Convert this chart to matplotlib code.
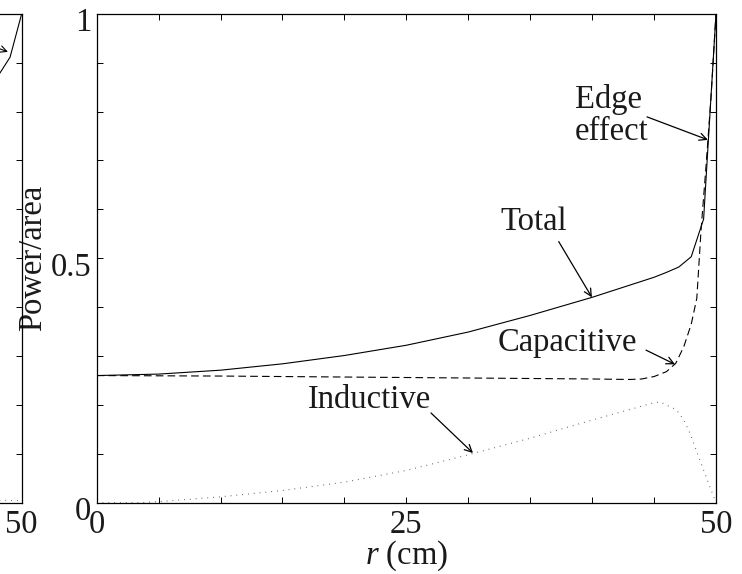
import matplotlib
matplotlib.use("Agg")
import matplotlib.pyplot as plt
from matplotlib.transforms import ScaledTranslation

plt.rcParams['font.family'] = ['Liberation Serif', 'DejaVu Serif']
plt.rcParams['mathtext.fontset'] = 'custom'
plt.rcParams['mathtext.rm'] = 'Liberation Serif'
plt.rcParams['mathtext.it'] = 'Liberation Serif:italic'
plt.rcParams['lines.scale_dashes'] = False

# ---- data ----
r_total = [0, 5, 10, 15, 20, 25, 30, 35, 40, 45, 46, 47, 48, 49, 50]
total = [0.260, 0.263, 0.271, 0.284, 0.301, 0.322, 0.349, 0.383, 0.420, 0.461, 0.471, 0.482, 0.503, 0.580, 1.000]

r_cap = [0, 10, 20, 30, 40, 43, 44, 45, 46, 46.75, 47.4, 48.0, 48.45, 48.8, 49.2, 49.6, 50]
capacitive = [0.260, 0.259, 0.257, 0.255, 0.253, 0.252, 0.253, 0.258, 0.268, 0.285, 0.319, 0.365, 0.418,
              0.560, 0.690, 0.830, 1.000]

r_ind = [0, 3.5, 5, 10, 15, 20, 25, 30, 35, 40, 45, 45.5, 46.8, 47.4, 47.9, 48.7, 49.5, 50]
inductive = [0.0, 0.0, 0.002, 0.012, 0.025, 0.042, 0.066, 0.098, 0.132, 0.169, 0.2045, 0.206, 0.190,
             0.169, 0.142, 0.087, 0.033, 0.0]

# partially visible neighbouring panel
r_left = [47.4, 48.25, 49.06, 50]
left_total = [0.854, 0.879, 0.911, 1.0]
r_left_ind = [47.0, 49.7]
left_ind = [0.005, 0.005]

xticks = [0, 5, 10, 15, 20, 25, 30, 35, 40, 45, 50]
xticklabels = ['0', '', '', '', '', '25', '', '', '', '', '50']
left_xticklabels = ['', '', '', '', '', '', '', '', '', '', '50']
yticks = [0, 0.1, 0.2, 0.3, 0.4, 0.5, 0.6, 0.7, 0.8, 0.9, 1.0]
yticklabels = ['0', '', '', '', '', '0.5', '', '', '', '', '1']
left_yticklabels = [''] * 11

FS = 23.5
TXT = '#1a1a1a'

fig = plt.figure(figsize=(7.42, 5.74), dpi=100)
W, H = 742.0, 574.0
left_px, right_px, top_px, bot_px = 96.7, 716.0, 13.7, 502.7
aw = (right_px - left_px) / W
ah = (bot_px - top_px) / H
ab = 1 - bot_px / H

ax = fig.add_axes([left_px / W, ab, aw, ah])
axl = fig.add_axes([(21.7 - (right_px - left_px)) / W, ab, aw, ah])


def style(a, xl, yl):
    a.set_xlim(0, 50)
    a.set_ylim(0, 1)
    a.set_xticks(xticks)
    a.set_xticklabels(xl)
    a.set_yticks(yticks)
    a.set_yticklabels(yl)
    a.tick_params(direction='in', top=True, right=True, length=4.3, width=0.7,
                  labelsize=FS, colors='black', labelcolor=TXT)
    a.tick_params(axis='x', pad=5.0)
    a.tick_params(axis='y', pad=4.0)
    for s in a.spines.values():
        s.set_linewidth(0.9)
    a.patch.set_alpha(0)


style(ax, xticklabels, yticklabels)
style(axl, left_xticklabels, left_yticklabels)

# main curves
ax.plot(r_total, total, color='black', lw=0.8, solid_joinstyle='miter')
ax.plot(r_cap, capacitive, color='black', lw=0.8, dashes=(5.5, 3.0))
ax.plot(r_ind, inductive, color='#555555', lw=0.8, dashes=(0.6, 3.6))

# left panel curves
axl.plot(r_left, left_total, color='black', lw=0.8)
axl.plot(r_left_ind, left_ind, color='#555555', lw=0.8, dashes=(0.6, 3.6))
axl.annotate('', xy=(48.89, 0.922), xytext=(47.4, 0.936),
             arrowprops=dict(arrowstyle='->', color='black', lw=0.8, shrinkA=0, shrinkB=0,
                             mutation_scale=12))

# y tick labels sit slightly lower (MATLAB style)
off = ScaledTranslation(0, -6 / 100.0, fig.dpi_scale_trans)
for lab in ax.get_yticklabels():
    lab.set_transform(lab.get_transform() + off)

ax.set_ylabel('Power/area', fontsize=FS, color=TXT)
ax.yaxis.set_label_coords(-0.079, 0.5)
ax.set_xlabel('$r$ (cm)', fontsize=FS, color=TXT)
ax.xaxis.set_label_coords(0.5, -0.074)


def arrow(a, tail, head):
    a.annotate('', xy=head, xytext=tail,
               arrowprops=dict(arrowstyle='->', color='black', lw=0.9, shrinkA=0, shrinkB=0,
                               mutation_scale=13))


ax.text(35.3, 0.574, 'Total', fontsize=FS, color=TXT, ha='center', va='center')
arrow(ax, (37.3, 0.534), (39.98, 0.42))

ax.text(37.97, 0.327, 'Capacitive', fontsize=FS, color=TXT, ha='center', va='center')
arrow(ax, (44.35, 0.312), (46.69, 0.283))

ax.text(22.06, 0.21, 'Inductive', fontsize=FS, color=TXT, ha='center', va='center')
arrow(ax, (26.99, 0.1835), (30.38, 0.1016))

ax.text(38.6, (bot_px - 108) / 489.0, 'Edge', fontsize=FS, color=TXT, ha='left', va='baseline')
ax.text(38.6, (bot_px - 140) / 489.0, 'effect', fontsize=FS, color=TXT, ha='left', va='baseline')
arrow(ax, (44.43, 0.789), (49.35, 0.742))

fig.savefig('out.png', dpi=100)
